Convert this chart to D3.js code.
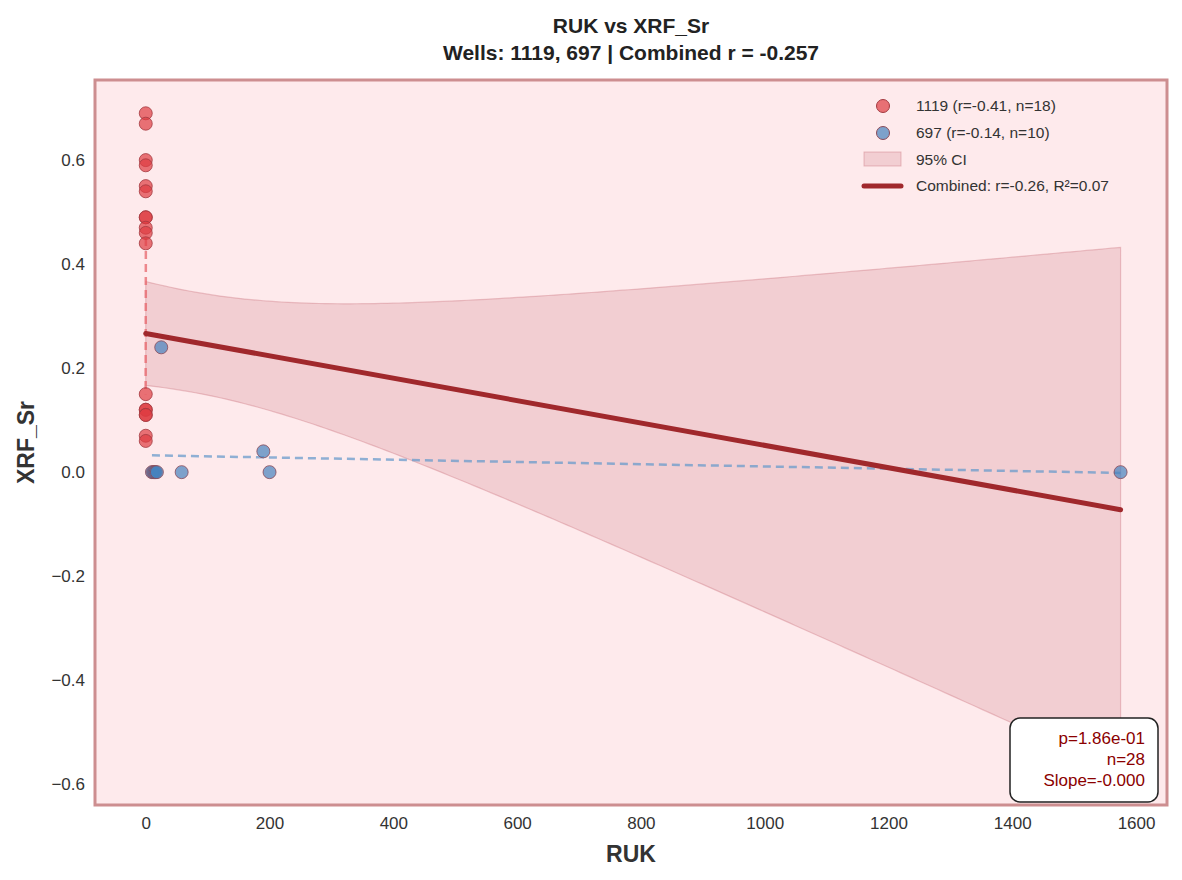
<!DOCTYPE html>
<html><head><meta charset="utf-8">
<script src="https://cdn.jsdelivr.net/npm/d3@7"></script>
<style>
body{margin:0;background:#fff;font-family:Arial,"Liberation Sans",sans-serif;}
</style></head><body>
<svg id="chart" width="1182" height="880"></svg>
<script>
// well 1119
const redX = [0,0,0,0,0,0,0,0,0,0,0,0,0,0,0,0,0,0];
const redY = [0.69,0.67,0.60,0.59,0.55,0.54,0.49,0.49,0.47,0.46,0.44,0.15,0.12,0.12,0.11,0.11,0.07,0.06];
// well 697
const blueX = [10,12,14,16,18,25,58,190,200,1575];
const blueY = [0,0,0,0,0,0.24,0,0.04,0,0];
const xTicks = [0,200,400,600,800,1000,1200,1400,1600];
const yTicks = [-0.6,-0.4,-0.2,0.0,0.2,0.4,0.6];

const svg = d3.select("#chart");
const L = 95, R = 1167, T = 80, B = 805;
const x = d3.scaleLinear().domain([-82, 1650]).range([L, R]);
const y = d3.scaleLinear().domain([-0.64, 0.754]).range([B, T]);

function fit(xs, ys) {
  const n = xs.length, mx = d3.mean(xs), my = d3.mean(ys);
  let sxy = 0, sxx = 0;
  xs.forEach((v, i) => { sxy += (v - mx) * (ys[i] - my); sxx += (v - mx) ** 2; });
  const b = sxx ? sxy / sxx : 0, a = my - b * mx;
  const se = Math.sqrt(d3.sum(xs, (v, i) => (ys[i] - a - b * v) ** 2) / (n - 2));
  return { a, b, mx, sxx, se, n };
}

svg.append("rect").attr("x", L).attr("y", T).attr("width", R - L).attr("height", B - T)
  .attr("fill", "#feeaec");

// CI band
const allX = redX.concat(blueX), allY = redY.concat(blueY);
const f = fit(allX, allY);
const t = 2.056;
const xs = d3.range(0, 1576, 10).concat([1575]);
const band = xs.map(v => {
  const h = t * f.se * Math.sqrt(1 / f.n + (v - f.mx) ** 2 / f.sxx);
  const m = f.a + f.b * v;
  return { v, lo: m - h, hi: m + h };
});
svg.append("path").datum(band)
  .attr("d", d3.area().x(d => x(d.v)).y0(d => y(d.lo)).y1(d => y(d.hi)))
  .attr("fill", "rgba(200,110,120,0.22)").attr("stroke", "rgba(200,110,120,0.35)").attr("stroke-width", 1.2);

// per-well dashed fits
svg.append("line").attr("x1", x(0.2)).attr("x2", x(-0.2)).attr("y1", y(0.45)).attr("y2", y(0.15))
  .attr("stroke", "#e8666c").attr("stroke-width", 2.5).attr("stroke-dasharray", "8,5").attr("opacity", 0.75);
const fb = fit(blueX, blueY);
svg.append("line").attr("x1", x(d3.min(blueX))).attr("x2", x(d3.max(blueX)))
  .attr("y1", y(fb.a + fb.b * d3.min(blueX))).attr("y2", y(fb.a + fb.b * d3.max(blueX)))
  .attr("stroke", "#6a9ccc").attr("stroke-width", 2.5).attr("stroke-dasharray", "8,5").attr("opacity", 0.75);

// points
svg.append("g").selectAll("circle").data(redX.map((v, i) => [v, redY[i]])).join("circle")
  .attr("cx", d => x(d[0])).attr("cy", d => y(d[1])).attr("r", 6.5)
  .attr("fill", "rgba(222,60,66,0.7)").attr("stroke", "#a33a40").attr("stroke-width", 0.8);
svg.append("g").selectAll("circle").data(blueX.map((v, i) => [v, blueY[i]])).join("circle")
  .attr("cx", d => x(d[0])).attr("cy", d => y(d[1])).attr("r", 6.5)
  .attr("fill", "rgba(70,130,190,0.7)").attr("stroke", "#8a4a58").attr("stroke-width", 0.8);

// combined line
svg.append("line").attr("x1", x(0)).attr("x2", x(1575))
  .attr("y1", y(f.a)).attr("y2", y(f.a + f.b * 1575))
  .attr("stroke", "#a0282c").attr("stroke-width", 5).attr("stroke-linecap", "round");

// frame
svg.append("rect").attr("x", L).attr("y", T).attr("width", R - L).attr("height", B - T)
  .attr("fill", "none").attr("stroke", "#cd8e90").attr("stroke-width", 3);

// axes
const ax = svg.append("g").attr("transform", `translate(0,${B})`)
  .call(d3.axisBottom(x).tickValues(xTicks).tickSize(0).tickPadding(12).tickFormat(d3.format("d")));
const ay = svg.append("g").attr("transform", `translate(${L},0)`)
  .call(d3.axisLeft(y).tickValues(yTicks).tickSize(0).tickPadding(10)
    .tickFormat(d => d3.format(".1f")(d).replace("-", "\u2212")));
[ax, ay].forEach(g => {
  g.select(".domain").remove();
  g.selectAll("text").attr("font-size", 17).attr("fill", "#333").attr("font-family", "Arial, sans-serif");
});

svg.append("text").attr("x", (L + R) / 2).attr("y", 862).attr("text-anchor", "middle")
  .attr("font-size", 23).attr("font-weight", "bold").attr("fill", "#333").text("RUK");
svg.append("text").attr("transform", `translate(34,${(T + B) / 2}) rotate(-90)`).attr("text-anchor", "middle")
  .attr("font-size", 23).attr("font-weight", "bold").attr("fill", "#333").text("XRF_Sr");
svg.append("text").attr("x", (L + R) / 2).attr("y", 33).attr("text-anchor", "middle")
  .attr("font-size", 21).attr("font-weight", "bold").attr("fill", "#222").text("RUK vs XRF_Sr");
svg.append("text").attr("x", (L + R) / 2).attr("y", 60).attr("text-anchor", "middle")
  .attr("font-size", 21).attr("font-weight", "bold").attr("fill", "#222").text("Wells: 1119, 697 | Combined r = -0.257");

// legend
const lg = svg.append("g").attr("font-size", 15.5).attr("fill", "#333");
lg.append("circle").attr("cx", 883).attr("cy", 106).attr("r", 6.5).attr("fill", "rgba(222,60,66,0.7)").attr("stroke", "#a33a40");
lg.append("text").attr("x", 916).attr("y", 111).text("1119 (r=-0.41, n=18)");
lg.append("circle").attr("cx", 883).attr("cy", 133).attr("r", 6.5).attr("fill", "rgba(70,130,190,0.7)").attr("stroke", "#8a4a58");
lg.append("text").attr("x", 916).attr("y", 138).text("697 (r=-0.14, n=10)");
lg.append("rect").attr("x", 864).attr("y", 152).attr("width", 37).attr("height", 14)
  .attr("fill", "rgba(200,110,120,0.22)").attr("stroke", "rgba(200,110,120,0.4)");
lg.append("text").attr("x", 916).attr("y", 165).text("95% CI");
lg.append("line").attr("x1", 864).attr("x2", 901).attr("y1", 186).attr("y2", 186)
  .attr("stroke", "#a0282c").attr("stroke-width", 5).attr("stroke-linecap", "round");
lg.append("text").attr("x", 916).attr("y", 191).text("Combined: r=-0.26, R\u00b2=0.07");

// stats box
svg.append("rect").attr("x", 1010).attr("y", 718).attr("width", 148).attr("height", 84).attr("rx", 10)
  .attr("fill", "#fff").attr("stroke", "#222").attr("stroke-width", 1.5);
["p=1.86e-01", "n=28", "Slope=-0.000"].forEach((s, i) =>
  svg.append("text").attr("x", 1145).attr("y", 744 + i * 21).attr("text-anchor", "end")
    .attr("font-size", 17).attr("fill", "#8b0000").text(s));
</script></body></html>
